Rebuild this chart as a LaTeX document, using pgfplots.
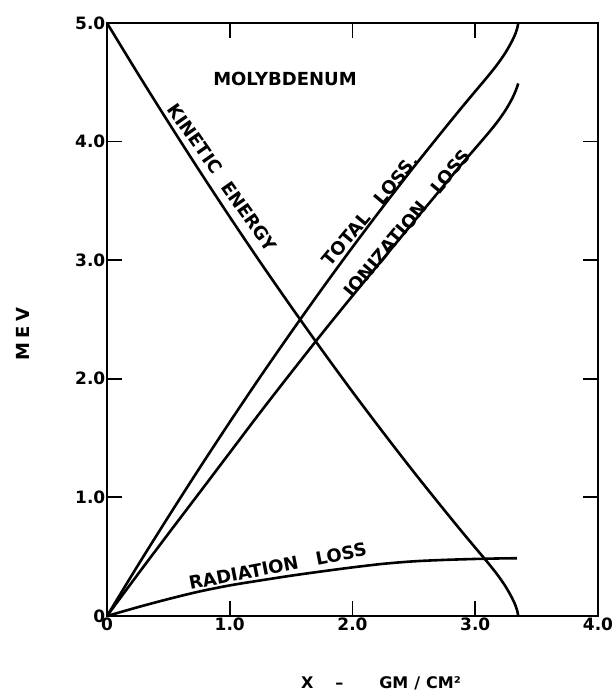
\documentclass[border=0pt]{standalone}
\usepackage{fontspec}
\setmainfont{DejaVu Sans}
\usepackage{pgfplots}
\pgfplotsset{compat=1.18}

\begin{document}
\begin{tikzpicture}
\begin{axis}[
    width=491pt, height=593pt, scale only axis,
    xmin=0, xmax=4,
    ymin=0, ymax=5,
    xtick={0,1,2,3,4},
    xticklabels={0,1.0,2.0,3.0,4.0},
    ytick={0,1,2,3,4,5},
    yticklabels={0\hspace{11pt},1.0,2.0,3.0,4.0,5.0},
    axis line style={line width=2.3pt},
    major tick style={line width=1.8pt, black},
    major tick length=15pt,
    tick label style={font=\fontsize{17}{17}\selectfont\bfseries},
    xticklabel style={inner sep=2pt},
    yticklabel style={inner sep=1.5pt},
    xlabel={X\hspace{22pt}--\hspace{36pt}GM\hspace{6pt}/\hspace{6pt}CM²},
    xlabel style={at={(axis description cs:0.558,-0.113)}, anchor=center,
        font=\fontsize{16}{16}\selectfont\bfseries},
    ylabel={M\hspace{4pt}E\hspace{4pt}V},
    ylabel style={at={(axis description cs:-0.171,0.4755)}, anchor=center,
        font=\fontsize{18}{18}\selectfont\bfseries},
    curve/.style={black, line width=2.6pt, no markers, smooth, tension=0.5},
]
% kinetic energy
\addplot[curve] coordinates {
    (0,5.0) (0.25,4.576) (0.5,4.163) (0.75,3.759) (1.0,3.365) (1.25,2.981)
    (1.5,2.608) (1.75,2.244) (2.0,1.890) (2.25,1.547) (2.5,1.213) (2.75,0.890)
    (2.9,0.700) (3.0,0.576) (3.1,0.453) (3.179,0.35) (3.246,0.25)
    (3.301,0.15) (3.331,0.08) (3.345,0.03) (3.35,0.0)
};
% total loss
\addplot[curve] coordinates {
    (0,0) (0.25,0.424) (0.5,0.837) (0.75,1.241) (1.0,1.635) (1.25,2.019)
    (1.5,2.392) (1.75,2.756) (2.0,3.110) (2.25,3.453) (2.5,3.787) (2.75,4.110)
    (2.9,4.300) (3.0,4.424) (3.1,4.547) (3.179,4.65) (3.246,4.75)
    (3.301,4.85) (3.331,4.92) (3.345,4.97) (3.35,5.0)
};
% ionization loss
\addplot[curve] coordinates {
    (0,0) (0.25,0.350) (0.5,0.694) (0.75,1.035) (1.0,1.377) (1.25,1.719)
    (1.5,2.052) (1.75,2.380) (2.0,2.700) (2.25,3.013) (2.5,3.326) (2.75,3.637)
    (2.9,3.823) (3.0,3.943) (3.1,4.064) (3.179,4.165) (3.246,4.264)
    (3.301,4.363) (3.331,4.433) (3.35,4.49)
};
% radiation loss
\addplot[curve] coordinates {
    (0,0) (0.25,0.074) (0.5,0.143) (0.75,0.206) (1.0,0.258) (1.25,0.300)
    (1.5,0.340) (1.75,0.376) (2.0,0.410) (2.25,0.440) (2.5,0.461) (2.75,0.473)
    (3.0,0.481) (3.1,0.483) (3.179,0.485) (3.246,0.486) (3.34,0.487)
};

\begin{scope}[every node/.style={font=\fontsize{18}{18}\selectfont\bfseries, inner sep=0pt}]
\node at (axis cs:1.45,4.525) {MOLYBDENUM};
\node[rotate=-55] at (axis cs:0.94,3.695) {KINETIC\hspace{0.8em}ENERGY};
\node[rotate=50] at (axis cs:2.145,3.42) {TOTAL\hspace{0.9em}LOSS.};
\node[rotate=50] at (axis cs:2.445,3.31) {IONIZATION\hspace{0.9em}LOSS};
\node[rotate=11] at (axis cs:1.39,0.42) {RADIATION\hspace{1em}LOSS};
\end{scope}

\coordinate (bl) at (rel axis cs:0,0);
\coordinate (tr) at (rel axis cs:1,1);
\end{axis}
\pgfresetboundingbox
\path (bl) ++(-107pt,-76pt) rectangle ([shift={(16pt,23pt)}]tr);
\end{tikzpicture}
\end{document}
